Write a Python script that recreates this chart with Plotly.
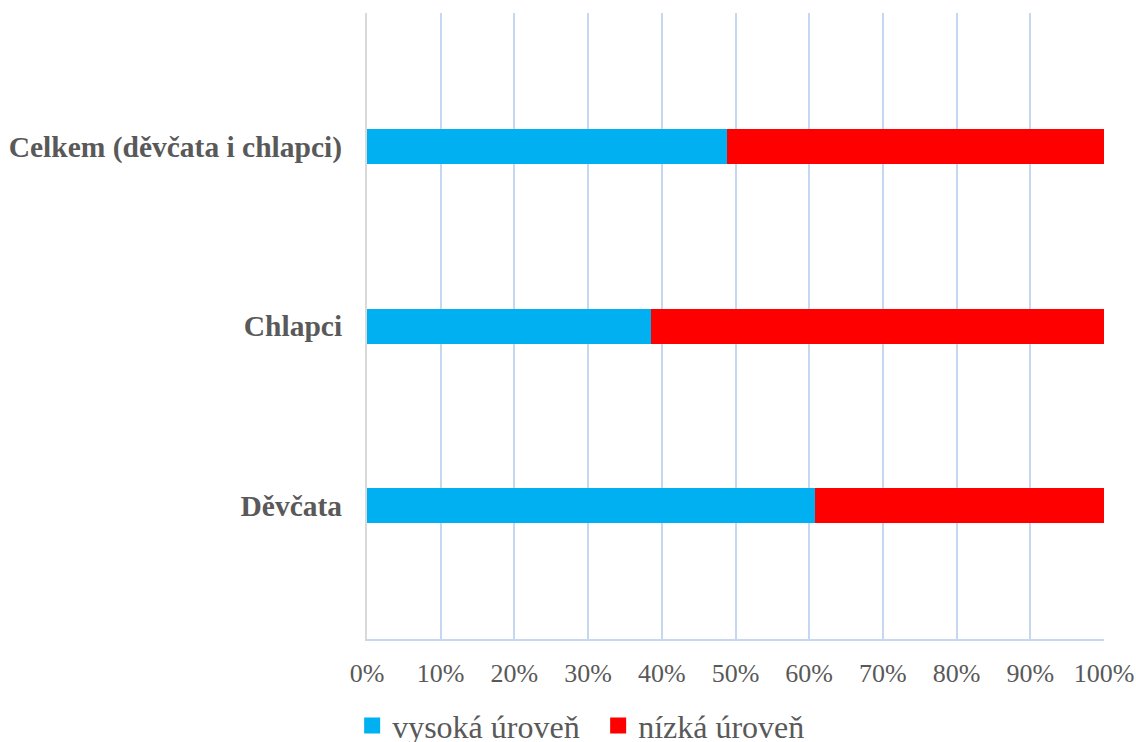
import plotly.graph_objects as go

# Categories from bottom to top
categories = ["Děvčata", "Chlapci", "Celkem (děvčata i chlapci)"]
series_names = ["vysoká úroveň", "nízká úroveň"]
high_level = [60.8, 38.5, 48.8]
low_level = [39.2, 61.5, 51.2]
x_ticks = list(range(0, 101, 10))
x_tick_labels = [f"{v}%" for v in x_ticks]

colors = ["#00B0F0", "#FF0000"]
text_color = "#595959"
serif = "Liberation Serif, Times New Roman, serif"

fig = go.Figure()
for name, vals, col in zip(series_names, [high_level, low_level], colors):
    fig.add_trace(go.Bar(
        y=categories, x=vals, name=name, orientation="h",
        marker=dict(color=col, line=dict(width=0)),
        width=0.195, showlegend=False,
    ))
    # larger square legend swatch
    fig.add_trace(go.Scatter(
        x=[None], y=[None], mode="markers", name=name,
        marker=dict(symbol="square", size=17, color=col),
        showlegend=True,
    ))

fig.update_layout(
    barmode="stack",
    width=1136, height=742,
    margin=dict(l=367, r=32, t=13, b=103, autoexpand=False),
    plot_bgcolor="white", paper_bgcolor="white",
    font=dict(family=serif, color=text_color, size=26),
    legend=dict(
        orientation="h", traceorder="normal",
        xref="container", yref="container",
        x=0.31, xanchor="left", y=0.022, yanchor="middle",
        font=dict(family=serif, size=32, color=text_color),
        itemsizing="trace", tracegroupgap=0, entrywidth=201,
    ),
)
fig.update_xaxes(
    range=[0, 100], tickvals=x_ticks, ticktext=x_tick_labels,
    showgrid=True, gridcolor="#C5D8EF", gridwidth=1.5,
    showline=True, linecolor="#C5D8EF", linewidth=2, mirror=False,
    zeroline=False, ticks="", ticklabelstandoff=10, automargin=False,
    tickfont=dict(family=serif, size=26, color=text_color),
)
fig.update_yaxes(
    type="category", categoryorder="array", categoryarray=categories,
    range=[-0.744, 2.744],
    showgrid=False, showline=True, linecolor="#D9D9D9", linewidth=2,
    ticks="", ticklabelstandoff=17, automargin=False,
    tickfont=dict(family=serif, size=29.5, color=text_color, weight="bold"),
)

fig.write_html("out.html")
